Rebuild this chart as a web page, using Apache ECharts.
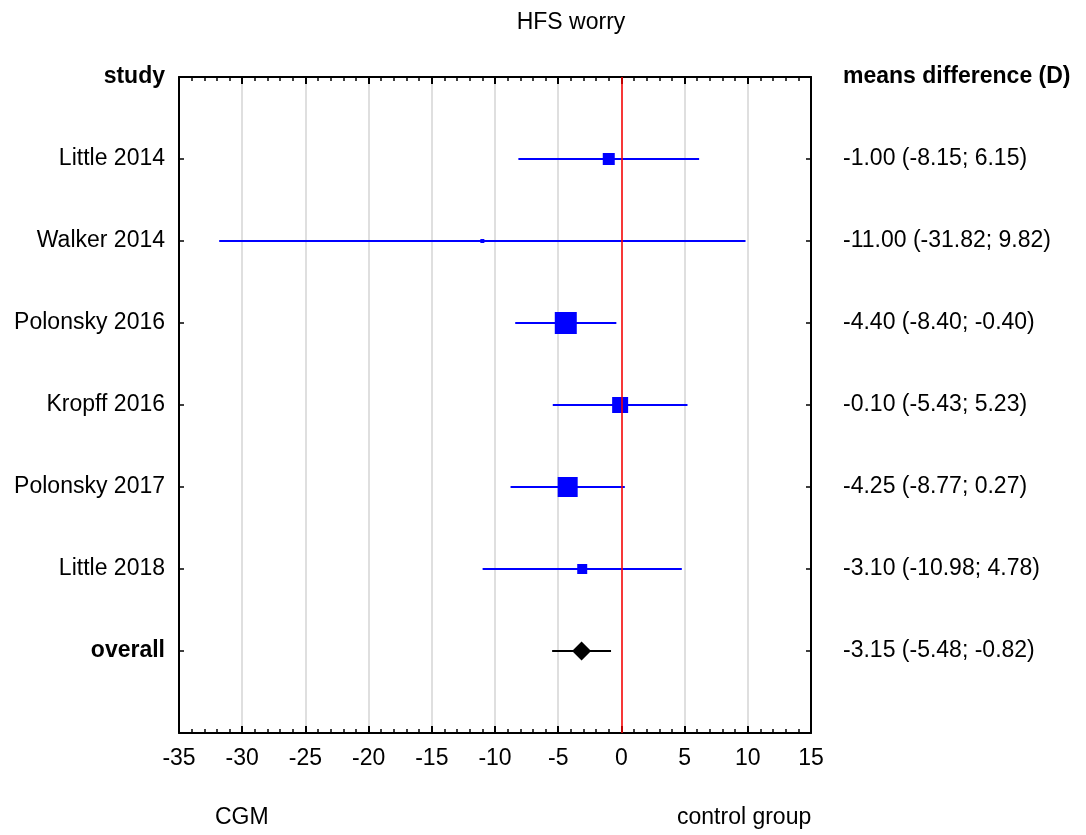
<!DOCTYPE html>
<html>
<head>
<meta charset="utf-8">
<script src="https://cdn.jsdelivr.net/npm/echarts@6/dist/echarts.min.js"></script>
<style>
  html, body { margin: 0; padding: 0; background: #fff; }
  #chart { width: 1086px; height: 835px; }
</style>
</head>
<body>
<div id="chart"></div>
<script>
// study rows (top to bottom)
var studies = ['Little 2014', 'Walker 2014', 'Polonsky 2016', 'Kropff 2016', 'Polonsky 2017', 'Little 2018'];
var means = [-1.00, -11.00, -4.40, -0.10, -4.25, -3.10];
var lower = [-8.15, -31.82, -8.40, -5.43, -8.77, -10.98];
var upper = [6.15, 9.82, -0.40, 5.23, 0.27, 4.78];
// relative weight of each study (drawn as box size)
var weights = [12, 4, 22, 16, 20, 10];

var overall = { mean: -3.15, lower: -5.48, upper: -0.82 };

var font = "'Liberation Sans', Arial, sans-serif";

function fmt(v) { return v.toFixed(2); }

var rowLabels = ['study'].concat(studies).concat(['overall', '']);
var rightLabels = ['means difference (D)'];
for (var i = 0; i < studies.length; i++) {
    rightLabels.push(fmt(means[i]) + ' (' + fmt(lower[i]) + '; ' + fmt(upper[i]) + ')');
}
rightLabels.push(fmt(overall.mean) + ' (' + fmt(overall.lower) + '; ' + fmt(overall.upper) + ')');
rightLabels.push('');

var studyData = [];
for (var i = 0; i < studies.length; i++) {
    studyData.push([means[i], i + 1, lower[i], upper[i]]);
}
var overallData = [[overall.mean, studies.length + 1, overall.lower, overall.upper]];

function labelFormatter(list) {
    return function (v) {
        var s = list[Math.round(v)];
        if (s === undefined || s === '') return '';
        if (v === 0 || (v === studies.length + 1 && list === rowLabels)) return '{b|' + s + '}';
        return s;
    };
}

var myChart = echarts.init(document.getElementById('chart'));
var option = {
    animation: false,
    title: {
        text: 'HFS worry',
        left: 566,
        textAlign: 'center',
        top: 6,
        textStyle: { fontFamily: font, fontSize: 23, fontWeight: 'normal', color: '#000' }
    },
    grid: { left: 179, right: 275, top: 77, bottom: 102 },
    xAxis: [{
        type: 'value',
        min: -35,
        max: 15,
        interval: 5,
        position: 'bottom',
        axisLine: { show: true, onZero: false, lineStyle: { color: '#000', width: 2 } },
        axisTick: { show: true, inside: true, length: 7, lineStyle: { color: '#000', width: 2 } },
        minorTick: { show: true, splitNumber: 5, length: 4, lineStyle: { color: '#000', width: 1.5 } },
        axisLabel: { color: '#000', fontFamily: font, fontSize: 23, margin: 14 },
        splitLine: { show: true, lineStyle: { color: '#d4d4d4', width: 1.5 } }
    }, {
        type: 'value',
        min: -35,
        max: 15,
        interval: 5,
        position: 'top',
        axisLine: { show: true, onZero: false, lineStyle: { color: '#000', width: 2 } },
        axisTick: { show: true, inside: true, length: 7, lineStyle: { color: '#000', width: 2 } },
        minorTick: { show: true, splitNumber: 5, length: 4, lineStyle: { color: '#000', width: 1.5 } },
        axisLabel: { show: false },
        splitLine: { show: false }
    }],
    yAxis: [{
        type: 'value',
        min: 0,
        max: 8,
        interval: 1,
        inverse: true,
        position: 'left',
        axisLine: { show: true, onZero: false, lineStyle: { color: '#000', width: 2 } },
        axisTick: { show: true, inside: true, length: 5, lineStyle: { color: '#000', width: 1.5 } },
        axisLabel: {
            color: '#000', fontFamily: font, fontSize: 23, margin: 14,
            formatter: labelFormatter(rowLabels),
            rich: { b: { fontFamily: font, fontSize: 23, fontWeight: 'bold', color: '#000' } }
        },
        splitLine: { show: false }
    }, {
        type: 'value',
        min: 0,
        max: 8,
        interval: 1,
        inverse: true,
        position: 'right',
        axisLine: { show: true, onZero: false, lineStyle: { color: '#000', width: 2 } },
        axisTick: { show: true, inside: true, length: 5, lineStyle: { color: '#000', width: 1.5 } },
        axisLabel: {
            color: '#000', fontFamily: font, fontSize: 23, margin: 32,
            formatter: labelFormatter(rightLabels),
            rich: { b: { fontFamily: font, fontSize: 23, fontWeight: 'bold', color: '#000' } }
        },
        splitLine: { show: false }
    }],
    graphic: [
        { type: 'text', left: 215, top: 806, style: { text: 'CGM', font: '23px ' + font, fill: '#000' } },
        { type: 'text', left: 677, top: 806, style: { text: 'control group', font: '23px ' + font, fill: '#000' } }
    ],
    series: [{
        type: 'custom',
        name: 'studies',
        xAxisIndex: 0,
        yAxisIndex: 0,
        encode: { x: [0, 2, 3], y: 1 },
        data: studyData,
        renderItem: function (params, api) {
            var y = api.value(1);
            var lo = api.coord([api.value(2), y]);
            var hi = api.coord([api.value(3), y]);
            var c = api.coord([api.value(0), y]);
            var s = weights[params.dataIndex];
            return {
                type: 'group',
                children: [{
                    type: 'line',
                    shape: { x1: lo[0], y1: lo[1], x2: hi[0], y2: hi[1] },
                    style: { stroke: '#0000ff', lineWidth: 2 }
                }, {
                    type: 'rect',
                    shape: { x: c[0] - s / 2, y: c[1] - s / 2, width: s, height: s },
                    style: { fill: '#0000ff' }
                }]
            };
        },
        markLine: {
            silent: true,
            symbol: 'none',
            label: { show: false },
            lineStyle: { color: '#ff0000', width: 1.5, type: 'solid' },
            data: [{ xAxis: 0 }]
        },
        z: 3
    }, {
        type: 'custom',
        name: 'overall',
        xAxisIndex: 0,
        yAxisIndex: 0,
        encode: { x: [0, 2, 3], y: 1 },
        data: overallData,
        renderItem: function (params, api) {
            var y = api.value(1);
            var lo = api.coord([api.value(2), y]);
            var hi = api.coord([api.value(3), y]);
            var c = api.coord([api.value(0), y]);
            var h = 9.5;
            return {
                type: 'group',
                children: [{
                    type: 'line',
                    shape: { x1: lo[0], y1: lo[1], x2: hi[0], y2: hi[1] },
                    style: { stroke: '#000', lineWidth: 2 }
                }, {
                    type: 'polygon',
                    shape: { points: [[c[0] - h, c[1]], [c[0], c[1] - h], [c[0] + h, c[1]], [c[0], c[1] + h]] },
                    style: { fill: '#000' }
                }]
            };
        },
        z: 4
    }]
};
myChart.setOption(option, true);
</script>
</body>
</html>
